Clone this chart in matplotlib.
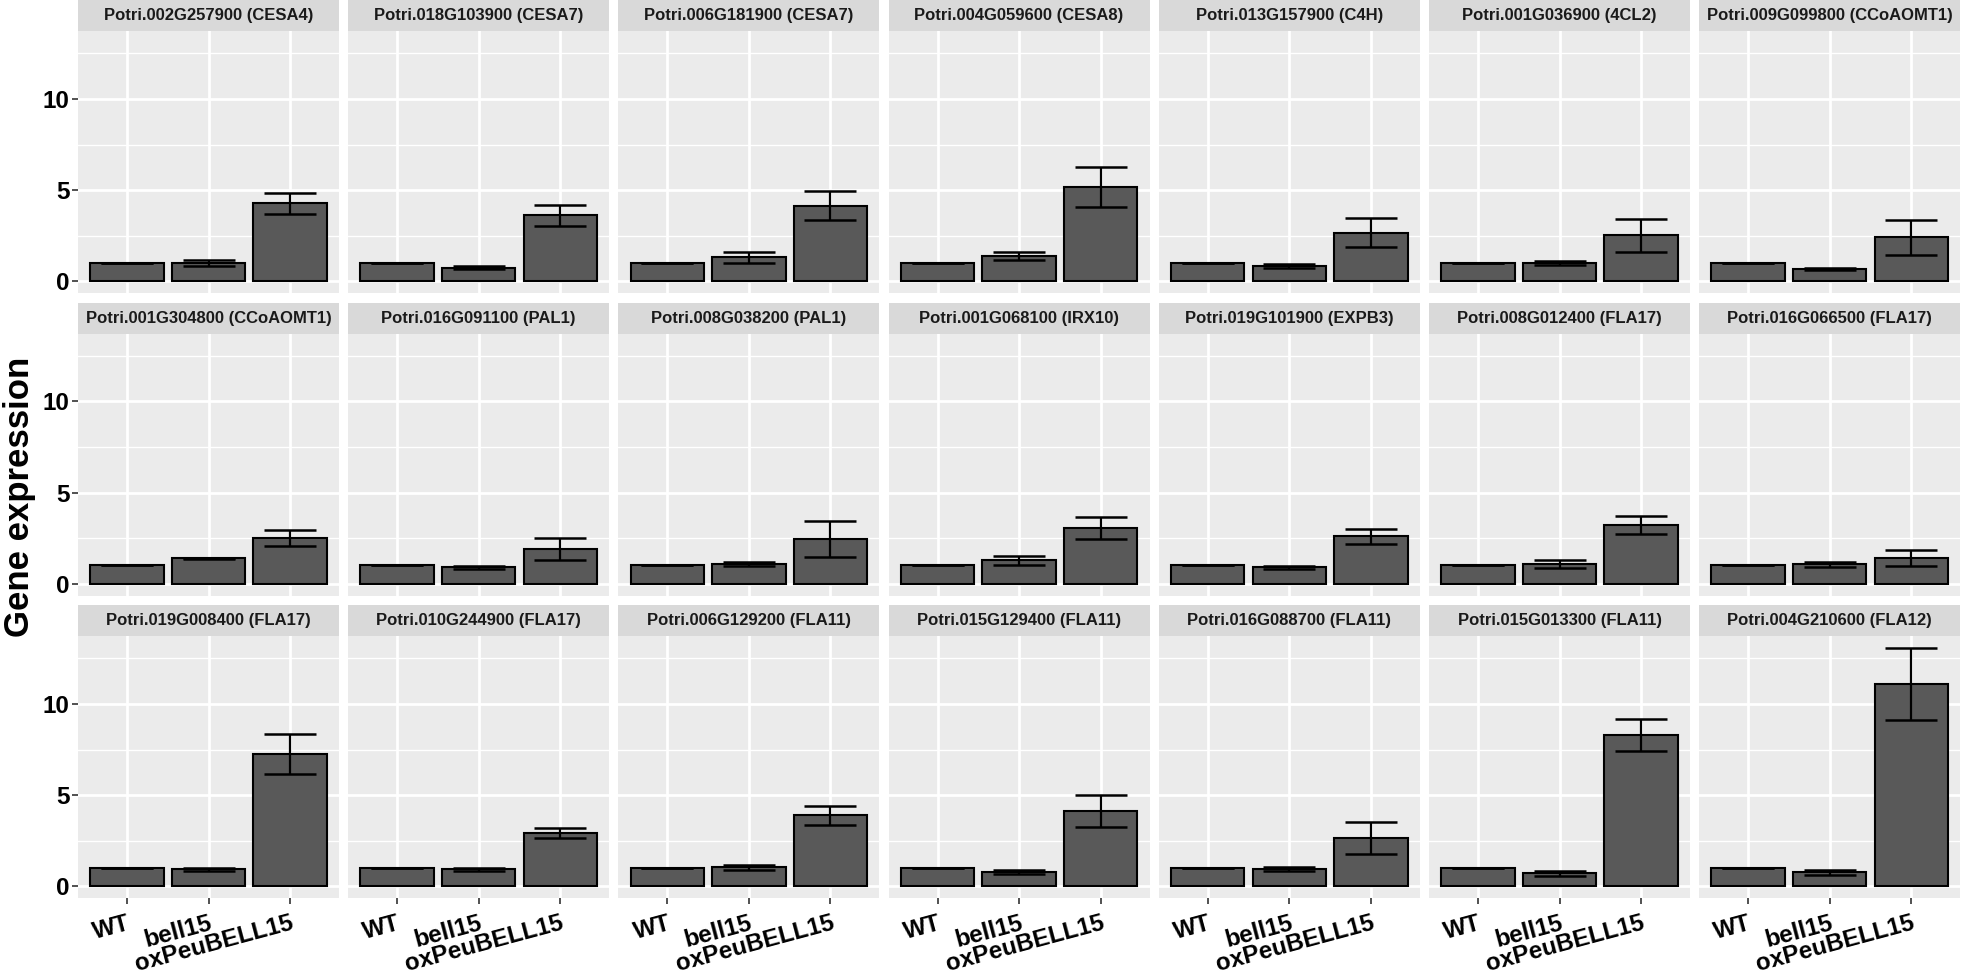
import matplotlib
matplotlib.use("Agg")
import matplotlib.pyplot as plt
import numpy as np

plt.rcParams['font.family'] = ['Liberation Sans', 'DejaVu Sans']

genes = [
    "Potri.002G257900 (CESA4)", "Potri.018G103900 (CESA7)", "Potri.006G181900 (CESA7)",
    "Potri.004G059600 (CESA8)", "Potri.013G157900 (C4H)", "Potri.001G036900 (4CL2)",
    "Potri.009G099800 (CCoAOMT1)",
    "Potri.001G304800 (CCoAOMT1)", "Potri.016G091100 (PAL1)", "Potri.008G038200 (PAL1)",
    "Potri.001G068100 (IRX10)", "Potri.019G101900 (EXPB3)", "Potri.008G012400 (FLA17)",
    "Potri.016G066500 (FLA17)",
    "Potri.019G008400 (FLA17)", "Potri.010G244900 (FLA17)", "Potri.006G129200 (FLA11)",
    "Potri.015G129400 (FLA11)", "Potri.016G088700 (FLA11)", "Potri.015G013300 (FLA11)",
    "Potri.004G210600 (FLA12)",
]
groups = ["WT", "bell15", "oxPeuBELL15"]

wt_mean = [1.0] * 21
wt_se = [0.0] * 21
bell_mean = [0.99, 0.74, 1.30, 1.38, 0.83, 1.01, 0.67,
             1.38, 0.90, 1.10, 1.28, 0.90, 1.06, 1.06,
             0.93, 0.92, 1.04, 0.76, 0.95, 0.70, 0.75]
bell_se = [0.17, 0.09, 0.29, 0.21, 0.10, 0.10, 0.07,
           0.01, 0.09, 0.11, 0.26, 0.08, 0.22, 0.15,
           0.08, 0.07, 0.13, 0.12, 0.10, 0.14, 0.13]
ox_mean = [4.28, 3.61, 4.15, 5.17, 2.66, 2.52, 2.40,
           2.51, 1.90, 2.46, 3.04, 2.60, 3.22, 1.40,
           7.23, 2.90, 3.88, 4.12, 2.66, 8.30, 11.10]
ox_se = [0.58, 0.56, 0.80, 1.12, 0.80, 0.90, 0.97,
         0.43, 0.58, 1.00, 0.61, 0.41, 0.48, 0.43,
         1.10, 0.28, 0.54, 0.88, 0.88, 0.90, 1.98]

W, H = 1961, 974
fig = plt.figure(figsize=(W / 100, H / 100), dpi=100)
fig.patch.set_facecolor("white")

ncol, nrow = 7, 3
left0, pw, pitch_x = 78, 261, 270.2
strip_h = 31
row_strip_top = [0, 302.5, 605]
ph = 262

ymax_data = max(m + s for m, s in zip(ox_mean, ox_se))
ylo, yhi = -0.05 * ymax_data, 1.05 * ymax_data

for i, g in enumerate(genes):
    r, c = divmod(i, ncol)
    x0 = left0 + c * pitch_x
    st = row_strip_top[r]
    # strip
    sax = fig.add_axes([x0 / W, 1 - (st + strip_h) / H, pw / W, strip_h / H])
    sax.set_facecolor("#D9D9D9")
    sax.set_xticks([]); sax.set_yticks([])
    for sp in sax.spines.values():
        sp.set_visible(False)
    sax.text(0.5, 0.5, g, ha="center", va="center", fontsize=12, fontweight="bold",
             color="#1A1A1A", transform=sax.transAxes)
    # panel
    ax = fig.add_axes([x0 / W, 1 - (st + strip_h + ph) / H, pw / W, ph / H])
    ax.set_facecolor("#EBEBEB")
    for sp in ax.spines.values():
        sp.set_visible(False)
    xs = np.arange(1, 4)
    means = [wt_mean[i], bell_mean[i], ox_mean[i]]
    ses = [wt_se[i], bell_se[i], ox_se[i]]
    ax.set_xlim(0.4, 3.6)
    ax.set_ylim(ylo, yhi)
    ax.set_yticks([0, 5, 10])
    ax.set_yticks([2.5, 7.5, 12.5], minor=True)
    ax.set_xticks(xs)
    ax.grid(True, which="major", color="white", lw=2.0, zorder=0)
    ax.grid(True, which="minor", axis="y", color="white", lw=1.0, zorder=0)
    ax.set_axisbelow(True)
    ax.bar(xs, means, width=0.9, color="#595959", edgecolor="black", lw=1.5, zorder=2)
    ax.errorbar(xs, means, yerr=ses, fmt="none", ecolor="black", elinewidth=1.6,
                capsize=18.5, capthick=1.8, zorder=3)
    ax.tick_params(which="minor", length=0)
    ax.tick_params(which="major", length=4, width=1.2, color="#333333")
    if c == 0:
        ax.set_yticklabels(["0", "5", "10"], fontsize=17.5, fontweight="bold", color="black")
        ax.tick_params(axis="y", pad=2)
    else:
        ax.tick_params(axis="y", length=0, labelleft=False)
    if r == nrow - 1:
        ax.set_xticklabels(groups, fontsize=17.5, fontweight="bold", color="black",
                           rotation=15, ha="right", va="top", rotation_mode="anchor")
        ax.tick_params(axis="x", pad=6)
    else:
        ax.tick_params(axis="x", length=0, labelbottom=False)

fig.text(20 / W, 1 - 497 / H, "Gene expression", rotation=90, ha="center", va="center",
         fontsize=25, fontweight="bold", color="black")

fig.savefig("out.png", dpi=100, facecolor="white")
